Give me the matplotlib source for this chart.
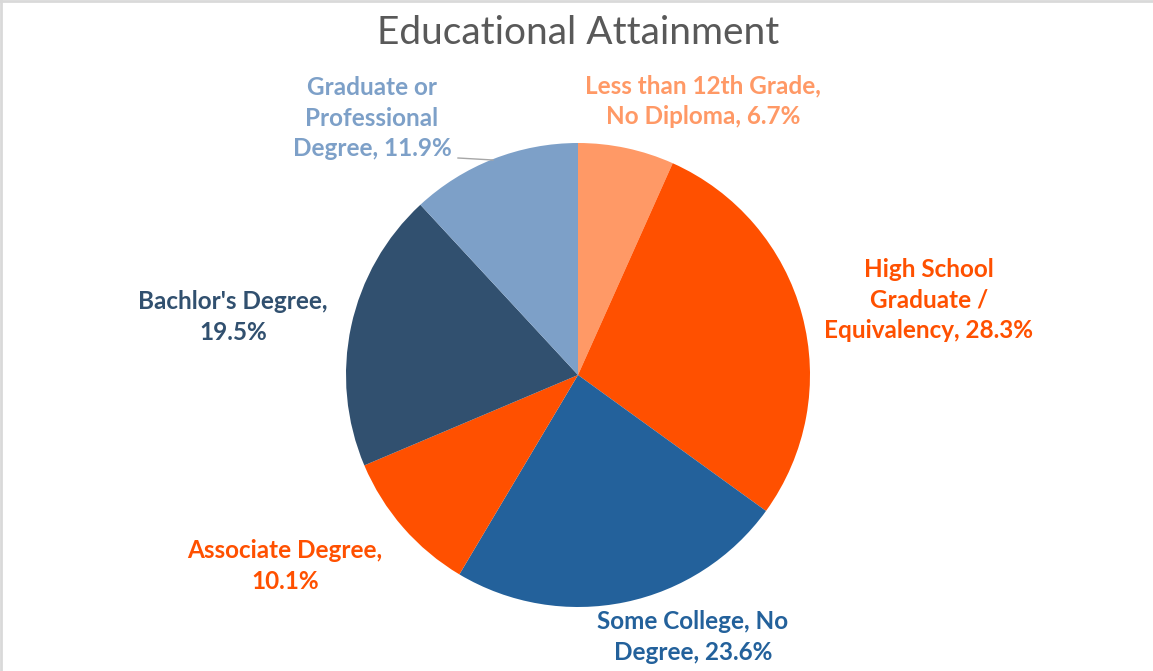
import numpy as np
import matplotlib.pyplot as plt
from matplotlib.lines import Line2D

# data
categories = ["Less than 12th Grade,\nNo Diploma", "High School\nGraduate /\nEquivalency",
              "Some College, No\nDegree", "Associate Degree,", "Bachlor's Degree,",
              "Graduate or\nProfessional\nDegree"]
shares = [6.7, 28.3, 23.6, 10.1, 19.5, 11.9]
colors = ["#FF9966", "#FF5000", "#23619B", "#FF5000", "#31506F", "#7DA0C8"]
# label text joins with the value on the last line or a new line
label_tpl = ["{}, {}%", "{}, {}%", "{}, {}%", "{}\n{}%", "{}\n{}%", "{}, {}%"]
# label centres in pixels of the 1153x671 canvas
label_px = [(703, 101), (929, 300), (693, 637), (285, 566), (233, 317), (372, 118)]

W, H = 1153, 671
fig = plt.figure(figsize=(W / 100, H / 100), dpi=100)
fig.patch.set_facecolor("white")

cx, cy, r = 578, 375, 232
ax = fig.add_axes([(cx - r) / W, (H - cy - r) / H, 2 * r / W, 2 * r / H])
ax.pie(shares, colors=colors, startangle=90, counterclock=False, radius=1,
       wedgeprops=dict(linewidth=0))
ax.set_xlim(-1, 1)
ax.set_ylim(-1, 1)
ax.set_aspect("equal")
ax.axis("off")

for cat, val, col, tpl, (px, py) in zip(categories, shares, colors, label_tpl, label_px):
    fig.text(px / W, 1 - py / H, tpl.format(cat, val), color=col, fontsize=17.5,
             fontweight="bold", family="Lato", ha="center", va="center",
             linespacing=1.38)

# leader line for the graduate slice
fig.add_artist(Line2D([458 / W, 493 / W], [1 - 158 / H, 1 - 160 / H],
                      color="#A6A6A6", lw=1))

fig.text(cx / W, 1 - 33 / H, "Educational Attainment", color="#595959",
         fontsize=28, family="Lato", ha="center", va="center")

# chart frame edges visible at top and left
fig.add_artist(Line2D([0.001, 0.001], [0, 1], color="#D9D9D9", lw=2))
fig.add_artist(Line2D([0, 1], [0.999, 0.999], color="#D9D9D9", lw=2))

fig.savefig("out.png", dpi=100)
